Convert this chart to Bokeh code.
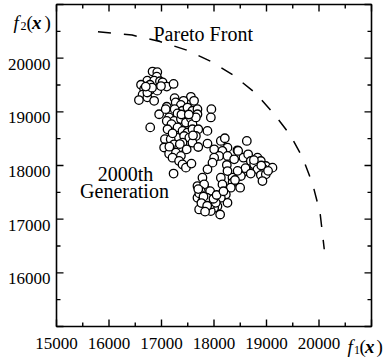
from bokeh.plotting import figure
from bokeh.models import Range1d, Label
from bokeh.core.properties import value
from bokeh.embed import file_html
from bokeh.resources import INLINE

# ---- data ----
gen_f1 = [
    16830, 16920, 16910, 16730, 16860, 16970, 17020, 16610, 16780, 17100,
    17230, 16670, 16780, 16920, 16640, 16730, 16570, 16860, 16730,
    17560, 17250, 17420, 17270, 17370, 17620, 17100, 17250, 16955, 17080,
    17400, 17495, 17590, 17685, 17685, 17305, 17145, 17240, 17370, 17465,
    17560, 17590, 17655, 16785, 17100, 17190, 17115, 17305, 17400, 17495,
    17590, 17700, 17655, 17290, 17430, 17530, 17065, 17175, 17400, 17590,
    17700, 17050, 17240, 17335, 17145, 17275, 17370, 17210, 17335, 17400,
    17465, 17570, 17230, 17950, 17940, 17875,
    17876, 18003, 18130, 18206, 18257, 18447, 18625, 18161, 18098, 18003,
    17971, 17876, 17780, 18257, 18244, 18384, 18460, 18561, 18650, 18701,
    18828, 18765, 18892, 18987, 19114, 18828, 18955, 18892, 18987, 18923,
    18638, 18542, 18447, 18352, 18257, 18130, 18161, 18352, 18320, 18498,
    18511, 18225, 18257, 18130, 18066, 18117, 18003, 17939, 17844, 17717,
    17685, 17780, 17844, 17717, 17685, 17812, 17749, 17926, 17907, 17939,
    18034, 17780, 17863,
    17720, 17800, 17760, 17870, 17990, 18050, 17830, 17700, 18180, 18400,
    18600, 18760, 18900, 19030, 18700, 18450, 17380, 17520, 17210, 17600,
    17350, 17480, 17150, 16820, 16990, 16700,
]
gen_f2 = [
    19750, 19740, 19655, 19580, 19580, 19570, 19550, 19505, 19505, 19470,
    19520, 19425, 19405, 19395, 19320, 19270, 19220, 19205, 19360,
    19280, 19255, 19205, 19175, 19130, 19205, 19095, 19050, 18955, 19050,
    19020, 19080, 19020, 19050, 18955, 18970, 18895, 18830, 18865, 18800,
    18880, 18770, 18895, 18710, 18830, 18770, 18675, 18710, 18645, 18615,
    18675, 18675, 18550, 18520, 18550, 18520, 18490, 18490, 18425, 18425,
    18345, 18335, 18395, 18335, 18220, 18240, 18180, 18145, 18085, 18020,
    17960, 18035, 17850, 19050, 18895, 18645,
    18408, 18302, 18458, 18508, 18333, 18283, 18458, 18271, 18178, 18146,
    18053, 17928, 17773, 18178, 18009, 18115, 18271, 18146, 18209, 18084,
    18146, 18022, 18084, 17991, 17960, 17928, 17928, 17822, 17835, 17710,
    17897, 17866, 17804, 17773, 17897, 17773, 17648, 17679, 17586, 17586,
    17804, 17461, 17305, 17399, 17243, 17087, 17212, 17150, 17212, 17181,
    17399, 17461, 17554, 17586, 17617, 17648, 17523, 17523, 17368, 17274,
    17305, 17336, 17399,
    17480, 17420, 17300, 17250, 17380, 17450, 17140, 17560, 17520, 17730,
    17950, 18100, 18000, 17900, 17850, 17900, 18950, 18950, 18600, 18560,
    18400, 18300, 18350, 19450, 19480, 19470,
]
front_f1 = [15790, 16440, 16970, 17480, 17950, 18380, 18800, 19150, 19450, 19690, 19880, 20020, 20100]
front_f2 = [20490, 20430, 20310, 20150, 19935, 19675, 19340, 18955, 18570, 18145, 17650, 17120, 16440]

x_tick_values = [15000, 16000, 17000, 18000, 19000, 20000]
y_tick_values = [16000, 17000, 18000, 19000, 20000]
major_values = [15000, 16000, 17000, 18000, 19000, 20000, 21000]
minor_values = [15500, 16500, 17500, 18500, 19500, 20500]

X0, X1, Y0, Y1 = 15000, 21000, 15000, 21000

# ---- layout (pixels of the plot box inside the canvas) ----
W, H = 392, 361
FL, FR, FT, FB = 56, 371, 4, 326
KX = (X1 - X0) / (FR - FL)
KY = (Y1 - Y0) / (FB - FT)

SERIF = "Liberation Serif"

p = figure(width=W, height=H,
           x_range=Range1d(X0 - FL * KX, X1 + (W - FR) * KX),
           y_range=Range1d(Y0 - (H - FB) * KY, Y1 + FT * KY),
           output_backend="svg", toolbar_location=None,
           x_axis_location=None, y_axis_location=None, min_border=0)
p.grid.visible = False
p.outline_line_color = None
p.background_fill_color = "white"
p.border_fill_color = "white"

# plot box
p.quad(left=[X0], right=[X1], bottom=[Y0], top=[Y1], fill_color=None,
       line_color="black", line_width=1.6)

# inward ticks on all four sides
MAJ, MIN = 7, 4
for vals, ln in ((major_values, MAJ), (minor_values, MIN)):
    n = len(vals)
    p.segment(x0=vals, y0=[Y0] * n, x1=vals, y1=[Y0 + ln * KY] * n,
              line_color="black", line_width=1.4)
    p.segment(x0=vals, y0=[Y1] * n, x1=vals, y1=[Y1 - ln * KY] * n,
              line_color="black", line_width=1.4)
    p.segment(x0=[X0] * n, y0=vals, x1=[X0 + ln * KX] * n, y1=vals,
              line_color="black", line_width=1.4)
    p.segment(x0=[X1] * n, y0=vals, x1=[X1 - ln * KX] * n, y1=vals,
              line_color="black", line_width=1.4)

# tick labels
p.text(x=x_tick_values, y=[Y0] * len(x_tick_values),
       text=[str(v) for v in x_tick_values], text_font=value(SERIF),
       text_font_size="17px", text_align="center", text_baseline="alphabetic",
       y_offset=17, text_color="black")
p.text(x=[X0] * len(y_tick_values), y=y_tick_values,
       text=[str(v) for v in y_tick_values], text_font=value(SERIF),
       text_font_size="17px", text_align="right", text_baseline="alphabetic",
       x_offset=-6, y_offset=6, text_color="black")

# data
p.line(front_f1, front_f2, line_color="black", line_width=1.5, line_dash="13 13")
p.scatter(gen_f1, gen_f2, size=8.5, marker="circle", fill_color="white",
          line_color="black", line_width=1.3)


def dx(px):
    return X0 + (px - FL) * KX


def dy(py):
    return Y1 - (py - FT) * KY


def add_text(txt, px, py, size, style="normal", align="left"):
    p.add_layout(Label(x=dx(px), y=dy(py), text=txt, text_font=SERIF,
                       text_font_size=size, text_font_style=style,
                       text_color="black", text_align=align,
                       text_baseline="alphabetic"))


add_text("Pareto Front", 153, 33, "20px")
add_text("2000th", 125, 173, "20px", align="center")
add_text("Generation", 124, 190.5, "20px", align="center")

# f2(x)
add_text("f", 13, 22, "19px", "italic")
add_text("2", 20, 25, "12px")
add_text("(", 26, 22, "19px")
add_text("x", 31.5, 22, "19px", "bold italic")
add_text(")", 44, 22, "19px")

# f1(x)
add_text("f", 347, 346, "19px", "italic")
add_text("1", 353.5, 349, "12px")
add_text("(", 359, 346, "19px")
add_text("x", 364.5, 346, "19px", "bold italic")
add_text(")", 376, 346, "19px")

open("out.html", "w").write(file_html(p, INLINE))
